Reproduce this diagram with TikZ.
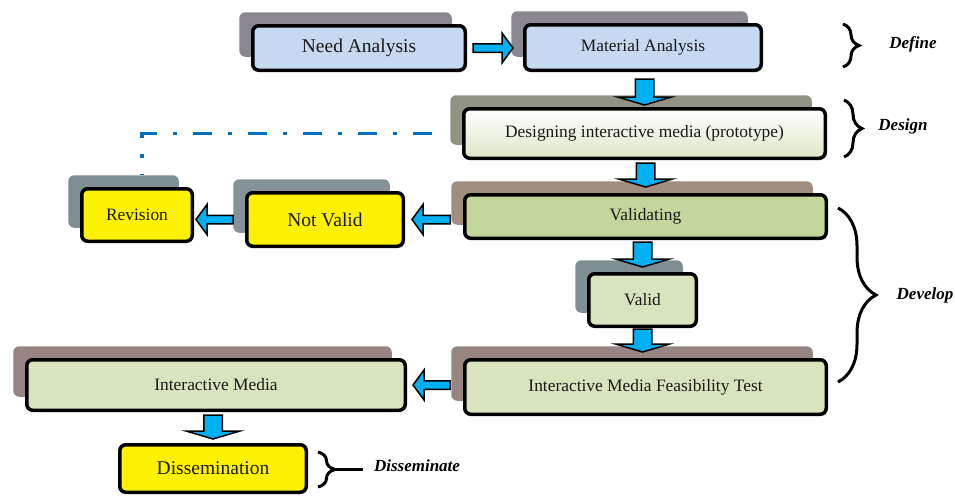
\documentclass[tikz,border=0pt]{standalone}
\usepackage{fontspec}
\setmainfont{Liberation Serif}
\usetikzlibrary{shadows,calc,decorations.pathreplacing}
\definecolor{boxblue}{HTML}{C6D9F1}
\definecolor{boxgreen}{HTML}{D7E4BD}
\definecolor{darkgreen}{HTML}{C3D69B}
\definecolor{palegreen}{HTML}{DCE6C6}
\definecolor{arrowblue}{HTML}{00B0F0}
\definecolor{linkblue}{HTML}{0070C0}
\definecolor{greyA}{HTML}{8B8790}
\definecolor{greyB}{HTML}{909383}
\definecolor{greyC}{HTML}{A28E7F}
\definecolor{greyD}{HTML}{7F8E93}
\definecolor{greyE}{HTML}{978584}
\definecolor{greyF}{HTML}{86929A}

\begin{document}
\begin{tikzpicture}[x=1pt,y=-1pt]
\tikzset{stage/.style={draw=black, line width=3.5pt, rounded corners=6pt, inner sep=0pt, text=black!90,
    font=\fontsize{17.4}{20}\selectfont,
    general shadow={fill=#1, shadow xshift=-13.5pt, shadow yshift=13.5pt}}}
\tikzset{big/.style={font=\fontsize{19.5}{22}\selectfont}}
\tikzset{phase/.style={font=\fontsize{17}{20}\selectfont\bfseries\itshape}}
\tikzset{curly/.style={decorate, decoration={brace, amplitude=#1}, line width=3pt}}
\tikzset{flow/.style n args={3}{draw=black, line width=1.5pt, fill=arrowblue, to path={
    ($(\tikztostart)!#1!90:(\tikztotarget)$)
    -- ($(\tikztotarget)!#3!(\tikztostart)!#1!90:(\tikztotarget)$)
    -- ($(\tikztotarget)!#3!(\tikztostart)!#2!90:(\tikztotarget)$)
    -- (\tikztotarget)
    -- ($(\tikztotarget)!#3!(\tikztostart)!#2!-90:(\tikztotarget)$)
    -- ($(\tikztotarget)!#3!(\tikztostart)!#1!-90:(\tikztotarget)$)
    -- ($(\tikztostart)!#1!-90:(\tikztotarget)$) -- cycle}}}
\tikzset{hflow/.style={flow={4.25pt}{15pt}{11pt}}, vflow/.style={flow={9.25pt}{27pt}{8pt}}}
\useasboundingbox (0,0) rectangle (955,496);

\node[stage=greyA, big, fill=boxblue, minimum width=212.5pt, minimum height=44.5pt] (need) at (359,48) {Need Analysis};
\node[stage=greyA, fill=boxblue, minimum width=236.5pt, minimum height=45.5pt] (mat) at (643,47.5) {Material Analysis};
\node[stage=greyB, top color=white, bottom color=palegreen, minimum width=361.5pt, minimum height=49.5pt] (des) at (644.5,133.5) {Designing interactive media (prototype)};
\node[stage=greyC, fill=darkgreen, minimum width=361.5pt, minimum height=43.5pt] (val) at (645.5,216.5) {Validating};
\node[stage=greyD, fill=boxgreen, minimum width=107.5pt, minimum height=52.5pt] (ok) at (642.5,300) {Valid};
\node[stage=greyE, fill=boxgreen, minimum width=361.5pt, minimum height=54.5pt] (feas) at (645.5,387) {Interactive Media Feasibility Test};
\node[stage=greyE, fill=boxgreen, minimum width=378.5pt, minimum height=50.5pt] (media) at (216,385) {Interactive Media};
\node[stage=white, big, fill=yellow, minimum width=186.5pt, minimum height=47.5pt] (diss) at (213,468.5) {Dissemination};
\node[stage=greyF, big, fill=yellow, minimum width=156.5pt, minimum height=53.5pt] (notv) at (325,219.5) {Not Valid};
\node[stage=greyD, fill=yellow, minimum width=110.5pt, minimum height=52.5pt] (rev) at (137,215) {Revision};

\draw[linkblue, line width=3.5pt, dash pattern=on 19pt off 16pt on 4pt off 16pt]
    ($(des.west)+(-30pt,0pt)$) -| ($(rev.north)+(5pt,13pt)$);

\draw[hflow] ($(need.east)+(6pt,0pt)$) to ($(need.east -| mat.west)+(-10pt,0pt)$);
\draw[vflow] ($(mat.south -| des.north)+(0pt,-7pt)$) to ($(des.north)+(0pt,2pt)$);
\draw[vflow] ($(des.south -| val.north)+(0pt,-3pt)$) to ($(val.north)+(0pt,6pt)$);
\draw[vflow] ($(val.south -| ok.north)+(0pt,-2pt)$) to ($(ok.north)+(0pt,5pt)$);
\draw[vflow] ($(ok.south)+(0pt,-1pt)$) to ($(feas.north -| ok.south)+(0pt,6pt)$);
\draw[hflow] ($(notv.east -| val.west)+(-13pt,0pt)$) to ($(notv.east)+(7pt,0pt)$);
\draw[hflow] ($(notv.west)+(-12pt,0pt)$) to ($(notv.west -| rev.east)+(2pt,0pt)$);
\draw[hflow] ($(media.east -| feas.west)+(-13pt,0pt)$) to ($(media.east)+(6pt,0pt)$);
\draw[vflow] ($(media.south -| diss.north)+(0pt,-3pt)$) to ($(diss.north)+(0pt,4pt)$);

\draw[curly=16pt] (843,24) -- (843,67);
\draw[curly=18pt] (844,100) -- (844,157);
\draw[curly=38pt] (838,208) -- (838,382);
\draw[curly=17pt] (318,452) -- (318,487);
\draw[line width=3pt] (335,469.5) -- (363,469.5);

\node[phase] (define) at (913,44) {Define};
\node[phase] (design) at (903,126) {Design};
\node[phase] (develop) at (925,295) {Develop};
\node[phase] (disseminate) at (417,466) {Disseminate};
\end{tikzpicture}
\end{document}
